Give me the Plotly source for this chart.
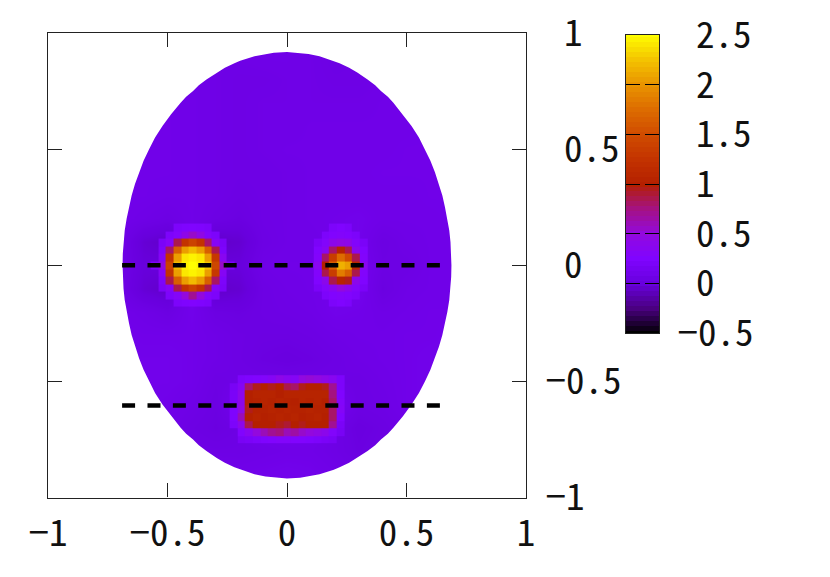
import plotly.graph_objects as go

W, H = 830, 577
FONT = "Noto Sans Mono CJK JP, DejaVu Sans Mono"
FONT_SIZE = 37
NB = "\u00a0"

axis_ticks = [-1, -0.5, 0, 0.5, 1]
x_tick_text = ["−1", "−0.5", "0", "0.5", "1"]
y_tick_text = ["−1", "−0.5", NB + "0", NB + "0.5", NB + "1"]
cbar_ticks = [-0.5, 0, 0.5, 1, 1.5, 2, 2.5]
cbar_text = ["−0.5", NB + "0", NB + "0.5", NB + "1", NB + "1.5", NB + "2", NB + "2.5"]

# levels of the colour key
cbar_levels = [-0.5, -0.45, -0.4, -0.35, -0.3, -0.25, -0.2, -0.15, -0.1, -0.05,
               0.0, 0.05, 0.1, 0.15, 0.2, 0.25, 0.3, 0.35, 0.4, 0.45,
               0.5, 0.55, 0.6, 0.65, 0.7, 0.75, 0.8, 0.85, 0.9, 0.95,
               1.0, 1.05, 1.1, 1.15, 1.2, 1.25, 1.3, 1.35, 1.4, 1.45,
               1.5, 1.55, 1.6, 1.65, 1.7, 1.75, 1.8, 1.85, 1.9, 1.95,
               2.0, 2.05, 2.1, 2.15, 2.2, 2.25, 2.3, 2.35, 2.4, 2.45, 2.5]

# gnuplot style 7,5,15 palette, value -> colour
palette = [
    [0.0, "#000000"], [0.0833, "#4a0080"], [0.1667, "#6800dd"], [0.25, "#8004ff"],
    [0.3333, "#9309dd"], [0.4167, "#a51280"], [0.5, "#b42000"], [0.5833, "#c33300"],
    [0.6667, "#d04c00"], [0.75, "#dd6c00"], [0.8333, "#e99400"], [0.9167, "#f4c400"],
    [1.0, "#ffff00"],
]

# outline of the domain, half width at each height
edge_y = [0.918, 0.915, 0.91, 0.9, 0.88, 0.87, 0.85, 0.83, 0.8, 0.775, 0.75, 0.725, 0.7, 0.65, 0.6, 0.55, 0.5, 0.45,
          0.4, 0.35, 0.3, 0.25, 0.2, 0.15, 0.1, 0.05, 0.0]
edge_x = [0.0, 0.055, 0.09, 0.136, 0.196, 0.22, 0.26, 0.294, 0.337, 0.369, 0.393, 0.422, 0.445, 0.485, 0.521, 0.552, 0.577, 0.6,
          0.619, 0.636, 0.65, 0.661, 0.671, 0.679, 0.684, 0.687, 0.688]

# coarse background field
bg_x = [-0.7, -0.6, -0.5, -0.4, -0.3, -0.2, -0.1, 0.0, 0.1, 0.2, 0.3, 0.4, 0.5, 0.6, 0.7]
bg_y = [0.9, 0.8, 0.7, 0.6, 0.5, 0.4, 0.3, 0.2, 0.1, 0.0, -0.1, -0.2, -0.3, -0.4, -0.5, -0.6, -0.7, -0.8, -0.9]
bg_z = [
    [.08, .08, .08, .08, .07, .07, .08, .08, .07, .05, .06, .07, .08, .08, .08],
    [.08, .08, .08, .08, .07, .06, .06, .07, .07, .06, .06, .07, .08, .08, .08],
    [.08, .08, .09, .08, .07, .06, .07, .07, .07, .07, .07, .08, .08, .08, .08],
    [.09, .09, .09, .08, .07, .06, .07, .07, .08, .08, .08, .08, .08, .09, .09],
    [.09, .09, .09, .08, .07, .06, .07, .08, .08, .08, .08, .08, .09, .09, .09],
    [.09, .09, .09, .08, .07, .06, .06, .07, .08, .08, .08, .09, .09, .09, .09],
    [.09, .09, .08, .08, .07, .05, .06, .07, .08, .08, .08, .08, .08, .09, .09],
    [.09, .07, .05, .08, .05, .03, .06, .07, .08, .09, .10, .08, .08, .08, .09],
    [.08, -.02, -.05, .10, -.05, -.03, .05, .07, .07, .09, .10, .04, .07, .08, .08],
    [.07, .00, .00, .15, .00, .00, .07, .08, .08, .12, .12, .05, .05, .08, .08],
    [.07, -.02, -.05, .12, -.05, -.03, .05, .07, .08, .10, .12, .03, .07, .08, .08],
    [.09, .07, .04, .10, .04, .03, .05, .06, .07, .10, .09, .07, .08, .09, .09],
    [.10, .09, .09, .09, .07, .05, .04, .04, .05, .07, .08, .08, .09, .09, .10],
    [.10, .10, .10, .09, .07, .05, .03, .02, .03, .05, .07, .08, .09, .10, .10],
    [.10, .10, .10, .09, .05, .06, .06, .06, .06, .06, .05, .07, .09, .10, .10],
    [.10, .10, .09, .07, .04, .12, .14, .14, .14, .12, .05, .06, .09, .10, .10],
    [.10, .10, .08, .05, .03, .05, .10, .12, .10, .06, .02, .04, .07, .10, .10],
    [.10, .10, .09, .07, .06, .06, .07, .08, .08, .06, .03, .05, .08, .10, .10],
    [.10, .10, .10, .10, .10, .09, .10, .11, .10, .08, .07, .08, .10, .10, .10],
]

# large round inclusion, cells
blob1_x = [-0.555, -0.523, -0.491, -0.459, -0.427, -0.395, -0.363, -0.331, -0.299, -0.267, -0.235]
blob1_y = [0.163, 0.13, 0.098, 0.065, 0.033, 0.0, -0.033, -0.065, -0.098, -0.13, -0.163]
blob1_z = [
    [None, None, None, .22, .24, .25, .24, .22, None, None, None],
    [None, None, .22, .28, .42, .55, .45, .28, .22, None, None],
    [None, .20, .30, .85, 1.25, 1.40, 1.25, .80, .32, .20, None],
    [None, .22, .80, 1.65, 2.05, 2.20, 2.05, 1.65, .85, .22, None],
    [None, .32, 1.25, 2.05, 2.40, 2.45, 2.40, 2.05, 1.30, .35, None],
    [.22, .45, 1.40, 2.20, 2.45, 2.50, 2.45, 2.25, 1.45, .55, .22],
    [None, .32, 1.25, 2.05, 2.40, 2.45, 2.40, 2.05, 1.30, .32, None],
    [None, .22, .85, 1.65, 2.05, 2.20, 2.05, 1.65, .80, .22, None],
    [None, .20, .32, .85, 1.25, 1.40, 1.25, .85, .30, .20, None],
    [None, None, .22, .30, .50, .70, .50, .28, .22, None, None],
    [None, None, None, .22, .24, .26, .24, .22, None, None, None],
]

# small round inclusion
blob2_x = [0.128, 0.16, 0.192, 0.224, 0.256, 0.288, 0.32]
blob2_y = [0.163, 0.13, 0.098, 0.065, 0.033, 0.0, -0.033, -0.065, -0.098, -0.13, -0.163]
blob2_z = [
    [None, None, .22, .25, .22, None, None],
    [None, .22, .26, .28, .26, .22, None],
    [.20, .28, .40, .45, .42, .28, .20],
    [.25, .35, .80, 1.05, .85, .38, .25],
    [.27, .80, 1.35, 1.75, 1.50, .85, .27],
    [.35, 1.00, 1.65, 2.15, 2.05, 1.10, .35],
    [.27, .85, 1.35, 1.85, 1.65, .85, .27],
    [.25, .40, .85, 1.05, .95, .40, .25],
    [.20, .28, .35, .50, .40, .28, .20],
    [None, .22, .26, .28, .26, .22, None],
    [None, None, .22, .25, .22, None, None],
]

# rectangular inclusion
rect_x = [-0.224, -0.192, -0.16, -0.128, -0.096, -0.064, -0.032, 0.0, 0.032, 0.064, 0.096, 0.128, 0.16, 0.192, 0.224]
rect_y = [-0.49, -0.523, -0.555, -0.588, -0.62, -0.653, -0.686, -0.718, -0.75]
rect_z = [
    [None, .22, .24, .26, .28, .32, .42, .36, .32, .48, .52, .48, .42, .36, .22],
    [.18, .32, .80, .95, 1.00, .95, 1.00, .85, .80, .95, 1.00, 1.00, .95, .70, .22],
    [.20, .40, 1.00, 1.05, 1.05, 1.05, 1.00, 1.05, 1.05, 1.05, 1.05, 1.05, 1.05, .75, .25],
    [.20, .40, 1.00, 1.02, 1.05, 1.02, 1.05, 1.02, 1.00, 1.05, 1.02, 1.05, 1.00, .80, .28],
    [.24, .45, .95, 1.02, 1.02, 1.05, 1.02, 1.05, 1.02, 1.02, 1.05, 1.02, 1.02, .80, .30],
    [.24, .60, 1.00, 1.05, 1.00, 1.02, 1.05, 1.02, 1.05, 1.00, 1.02, 1.05, 1.00, .80, .25],
    [.22, .40, .85, 1.00, 1.00, 1.00, .95, .90, 1.00, .95, 1.00, 1.00, 1.00, .70, .20],
    [None, .26, .35, .50, .60, .70, .75, .60, .65, .55, .50, .45, .40, .28, .18],
    [None, .18, .20, .22, .24, .26, .28, .28, .26, .26, .24, .22, .20, .18, None],
]

# the two dashed cuts
cut_x = [-0.69, 0.648]
cut1_y = [0.0, 0.0]
cut2_y = [-0.604, -0.604]

fig = go.Figure()

for xs, ys, zs, smooth in [(bg_x, bg_y, bg_z, "best"),
                           (blob1_x, blob1_y, blob1_z, False),
                           (blob2_x, blob2_y, blob2_z, False),
                           (rect_x, rect_y, rect_z, False)]:
    fig.add_trace(go.Heatmap(x=xs, y=ys, z=zs, coloraxis="coloraxis", zsmooth=smooth,
                             hoverongaps=False, showlegend=False))

# white surround with an elliptical hole, trims the field to the domain
right_x = edge_x + list(reversed(edge_x[:-1]))
right_y = edge_y + [-v for v in reversed(edge_y[:-1])]
hole_x = right_x + [-v for v in reversed(right_x[:-1])]
hole_y = right_y + list(reversed(right_y[:-1]))
box = 0.96
fig.add_trace(go.Scatter(
    x=[-box, box, box, -box, -box, None] + hole_x,
    y=[-box, -box, box, box, -box, None] + hole_y,
    mode="lines", fill="toself", fillcolor="white",
    line=dict(width=0), hoverinfo="skip", showlegend=False,
))

for ys in [cut1_y, cut2_y]:
    fig.add_trace(go.Scatter(x=cut_x, y=ys, mode="lines", showlegend=False,
                             line=dict(color="black", width=4.4, dash="13px,12.4px")))

# colour key on its own axes, so ticks can come in from both edges like gnuplot
fig.add_trace(go.Heatmap(x=[0], y=cbar_levels, z=[[v] for v in cbar_levels], coloraxis="coloraxis",
                         xaxis="x2", yaxis="y2", hoverinfo="skip", showlegend=False))

line_col = "#222222"
fig.update_layout(
    width=W, height=H,
    margin=dict(l=0, r=0, t=0, b=0, autoexpand=False),
    paper_bgcolor="white", plot_bgcolor="white",
    font=dict(family=FONT, size=FONT_SIZE, color="#111111"),
    showlegend=False,
    coloraxis=dict(colorscale=palette, cmin=-0.5, cmax=2.5, showscale=False),
    xaxis=dict(
        domain=[48 / W, 526 / W], range=[-1, 1], anchor="y",
        tickmode="array", tickvals=axis_ticks, ticktext=x_tick_text,
        ticks="inside", ticklen=14, tickwidth=1.2, tickcolor=line_col,
        showline=True, linecolor=line_col, linewidth=1.3, mirror="ticks",
        showgrid=False, zeroline=False, ticklabelstandoff=3,
    ),
    yaxis=dict(
        domain=[(H - 497.5) / H, (H - 33) / H], range=[-1, 1], anchor="x", side="right",
        tickmode="array", tickvals=axis_ticks, ticktext=y_tick_text,
        ticks="inside", ticklen=14, tickwidth=1.2, tickcolor=line_col,
        showline=True, linecolor=line_col, linewidth=1.3, mirror="ticks",
        showgrid=False, zeroline=False, ticklabelstandoff=11,
    ),
    xaxis2=dict(
        domain=[626 / W, 659 / W], range=[-0.5, 0.5], anchor="y2", ticks="", showticklabels=False,
        showline=True, linecolor=line_col, linewidth=1.3, mirror=True, showgrid=False, zeroline=False,
    ),
    yaxis2=dict(
        domain=[(H - 333) / H, (H - 35) / H], range=[-0.5, 2.5], anchor="x2", side="right",
        tickmode="array", tickvals=cbar_ticks, ticktext=cbar_text,
        ticks="inside", ticklen=14, tickwidth=1, tickcolor="black",
        showline=True, linecolor=line_col, linewidth=1.3, mirror="ticks",
        showgrid=False, zeroline=False, ticklabelstandoff=10,
    ),
)

fig.write_html("out.html", config=dict(displayModeBar=False),
               post_script="document.body.style.margin='0';")
